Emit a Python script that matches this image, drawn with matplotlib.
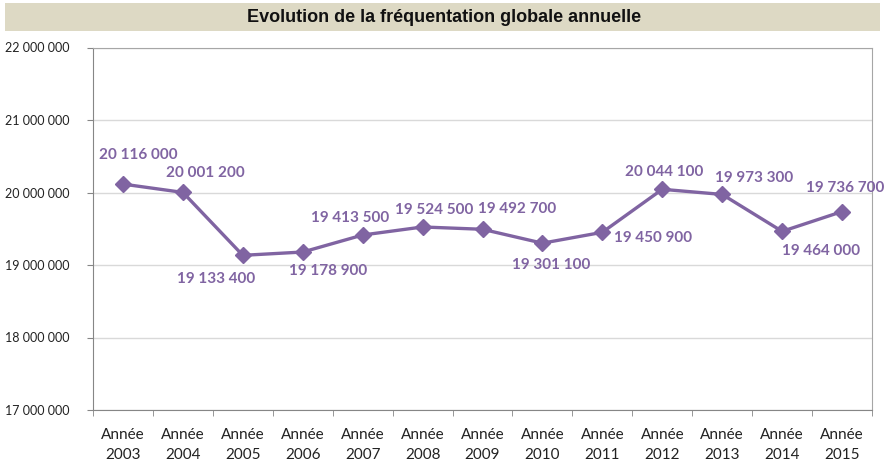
import matplotlib.pyplot as plt
import matplotlib.patches as patches

annees = ['2003', '2004', '2005', '2006', '2007', '2008', '2009',
          '2010', '2011', '2012', '2013', '2014', '2015']
frequentation = [20116000, 20001200, 19133400, 19178900, 19413500, 19524500,
                 19492700, 19301100, 19450900, 20044100, 19973300, 19464000,
                 19736700]
y_ticks = [17000000, 18000000, 19000000, 20000000, 21000000, 22000000]

# label offsets in pixels (dx, dy) relative to each point
offsets = [(15, 29), (22, 19), (-27, -24), (25, -19), (-13, 17), (12, 17),
           (35, 20), (9, -22), (51, -6), (2, 17), (32, 16), (39, -20), (3, 24)]

violet = '#8064a2'


def fmt(v):
    return f"{v:,}".replace(",", " ")


fig = plt.figure(figsize=(8.89, 4.63), dpi=100)
ax = fig.add_axes([93/889, 53/463, (872-93)/889, (410-47.5)/463])

# bandeau du titre
fig.patches.append(patches.Rectangle((5/889, 1-31/463), 875/889, 28/463,
                                     transform=fig.transFigure,
                                     facecolor='#ddd9c4', edgecolor='none'))
fig.text(0.5, 1-17/463, 'Evolution de la fréquentation globale annuelle',
         ha='center', va='center', fontsize=13, fontweight='bold',
         family='Liberation Sans', color='#111111')

x = list(range(len(annees)))
ax.plot(x, frequentation, color=violet, linewidth=2.4, marker='D',
        markersize=8.5, zorder=3)

for xi, v, (dx, dy) in zip(x, frequentation, offsets):
    ax.annotate(fmt(v), (xi, v), xytext=(dx, dy), textcoords='offset pixels',
                ha='center', va='center', fontsize=11, fontweight='bold',
                family='Lato', color=violet)

ax.set_xlim(-0.5, len(annees) - 0.5)
ax.set_ylim(17000000, 22000000)
ax.set_yticks(y_ticks)
ax.set_yticklabels([fmt(t) for t in y_ticks], family='Lato', fontsize=9,
                   color='#222222')
ax.yaxis.grid(True, color='#d9d9d9', linewidth=1)
ax.set_axisbelow(True)

ax.set_xticks(x)
ax.set_xticklabels(['Année\n' + a for a in annees], family='Lato',
                   fontsize=11, color='#222222', linespacing=1.5)
ax.set_xticks([i - 0.5 for i in range(len(annees) + 1)], minor=True)
ax.tick_params(axis='x', which='major', length=0, pad=13)
ax.tick_params(axis='x', which='minor', length=4, color='#868686')
ax.tick_params(axis='y', length=4, color='#868686', pad=13)

for s in ax.spines.values():
    s.set_color('#a6a6a6')
ax.spines['left'].set_color('#868686')
ax.spines['bottom'].set_color('#868686')

fig.savefig('out.png', dpi=100)
